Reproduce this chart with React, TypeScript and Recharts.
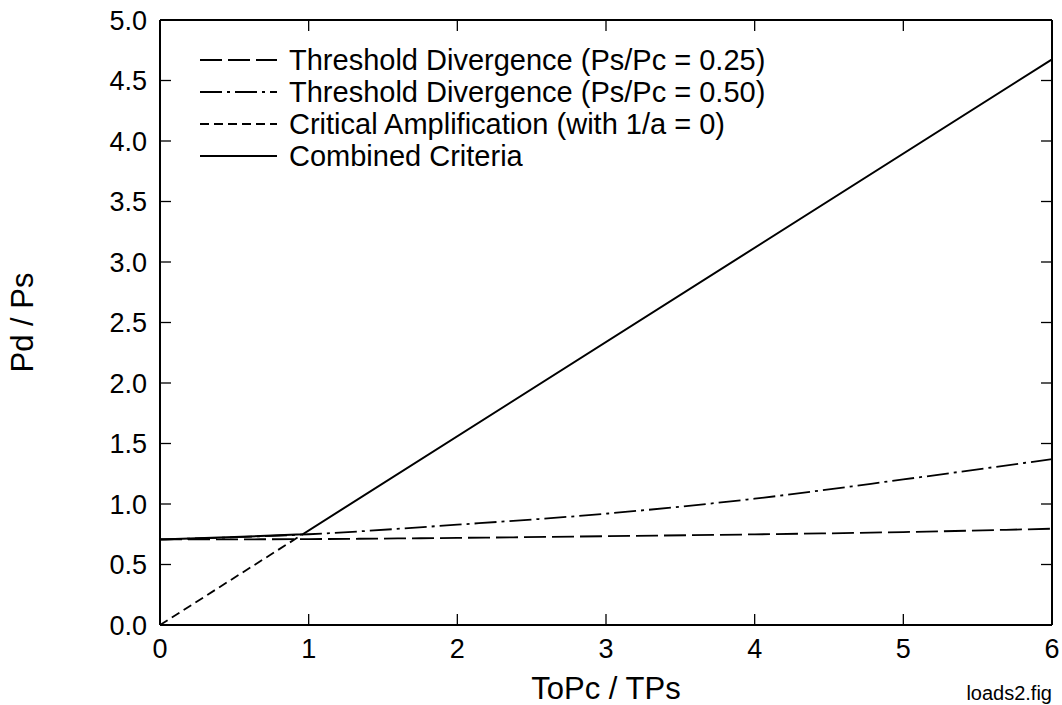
import React from 'react';
import { LineChart, Line, XAxis, YAxis, ReferenceLine } from 'recharts';

// values
const xValues = [0, 1, 2, 3, 4, 5, 6];
const divergence025 = [0.707, 0.71, 0.72, 0.734, 0.749, 0.768, 0.796];
const divergence050 = [0.707, 0.75, 0.829, 0.92, 1.044, 1.203, 1.371];

const criticalX = [0, 0.96];
const criticalY = [0, 0.75];

const combinedX = [0, 0.5, 0.96, 6];
const combinedY = [0.707, 0.727, 0.75, 4.675];

const xTicks = [0, 1, 2, 3, 4, 5, 6];
const yTicks = [0, 0.5, 1, 1.5, 2, 2.5, 3, 3.5, 4, 4.5, 5];

const seriesNames = [
  'Threshold Divergence (Ps/Pc = 0.25)',
  'Threshold Divergence (Ps/Pc = 0.50)',
  'Critical Amplification (with 1/a = 0)',
  'Combined Criteria',
];
const seriesDash = ['22 6', '22 5 3 5', '9 5', ''];

const X_MIN = 0;
const X_MAX = 6;
const Y_MIN = 0;
const Y_MAX = 5;
// inward tick length expressed in axis units (about 11px each way)
const TICK_DX = 0.074;
const TICK_DY = 0.09;

const toPoints = (xs: number[], ys: number[]) => xs.map((x, i) => ({ x, y: ys[i] }));

const div025Data = toPoints(xValues, divergence025);
const div050Data = toPoints(xValues, divergence050);
const criticalData = toPoints(criticalX, criticalY);
const combinedData = toPoints(combinedX, combinedY);

const FONT = '"Liberation Sans", Arial, Helvetica, sans-serif';
const TICK_FONT = 27;

const LeftTick = (p: any) => (
  <text x={Number(p.x)} y={Number(p.y)} dy="0.36em" textAnchor="end" fontSize={TICK_FONT} fontFamily={FONT} fill="#000">
    {Number(p.payload.value).toFixed(1)}
  </text>
);

const BottomTick = (p: any) => (
  <text x={Number(p.x)} y={Number(p.y)} dy="0.71em" textAnchor="middle" fontSize={TICK_FONT} fontFamily={FONT} fill="#000">
    {p.payload.value}
  </text>
);

const LegendBox = () => (
  <div style={{ position: 'absolute', left: 200, top: 44, fontFamily: FONT, fontSize: 29, color: '#000' }}>
    {seriesNames.map((name, i) => (
      <div key={name} style={{ display: 'flex', alignItems: 'center', height: 32 }}>
        <svg width={78} height={32} style={{ marginRight: 11 }}>
          <line x1={0} y1={16} x2={77} y2={16} stroke="#000" strokeWidth={1.8} strokeDasharray={seriesDash[i]} />
        </svg>
        <span style={{ lineHeight: '32px', whiteSpace: 'nowrap' }}>{name}</span>
      </div>
    ))}
  </div>
);

const XTitle = (props: any) => {
  const vb = props.viewBox || {};
  const cx = vb.x + vb.width / 2;
  return (
    <g fontFamily={FONT} fill="#000">
      <text x={cx} y={699} textAnchor="middle" fontSize={31}>ToPc / TPs</text>
      <text x={1052} y={700} textAnchor="end" fontSize={20}>loads2.fig</text>
    </g>
  );
};

const YTitle = (props: any) => {
  const vb = props.viewBox || {};
  const cy = vb.y + vb.height / 2;
  return (
    <text
      x={22}
      y={cy}
      transform={`rotate(-90 22 ${cy})`}
      textAnchor="middle"
      dominantBaseline="central"
      fontSize={31}
      fontFamily={FONT}
      fill="#000"
    >
      Pd / Ps
    </text>
  );
};

export default function App() {
  const axisLine = { stroke: '#000', strokeWidth: 2 };
  const tickProps = { xAxisId: 'bottom', yAxisId: 'left', stroke: '#000', strokeWidth: 1.3, ifOverflow: 'visible' as const };
  return (
    <div style={{ position: 'absolute', left: 0, top: 0, background: '#fff' }}>
      <LineChart width={1062} height={705} margin={{ top: 20, right: 10, left: 0, bottom: 0 }}>
        <XAxis
          xAxisId="bottom"
          dataKey="x"
          type="number"
          domain={[X_MIN, X_MAX]}
          ticks={xTicks}
          orientation="bottom"
          height={80}
          tickSize={0}
          tickMargin={14}
          tick={<BottomTick />}
          axisLine={axisLine}
          tickLine={false}
          allowDuplicatedCategory={false}
          label={<XTitle />}
        />
        <XAxis
          xAxisId="top"
          dataKey="x"
          type="number"
          domain={[X_MIN, X_MAX]}
          ticks={xTicks}
          orientation="top"
          mirror
          height={10}
          tick={false}
          axisLine={axisLine}
          tickLine={false}
          allowDuplicatedCategory={false}
        />
        <YAxis
          yAxisId="left"
          type="number"
          domain={[Y_MIN, Y_MAX]}
          ticks={yTicks}
          orientation="left"
          width={160}
          tickSize={0}
          tickMargin={13}
          tick={<LeftTick />}
          axisLine={axisLine}
          tickLine={false}
          label={<YTitle />}
        />
        <YAxis
          yAxisId="right"
          type="number"
          domain={[Y_MIN, Y_MAX]}
          ticks={yTicks}
          orientation="right"
          mirror
          width={10}
          tick={false}
          axisLine={axisLine}
          tickLine={false}
        />

        {/* inward tick marks on all four sides of the frame */}
        {yTicks.map((t) => (
          <ReferenceLine key={`l${t}`} {...tickProps} segment={[{ x: X_MIN, y: t }, { x: X_MIN + TICK_DX, y: t }]} />
        ))}
        {yTicks.map((t) => (
          <ReferenceLine key={`r${t}`} {...tickProps} segment={[{ x: X_MAX - TICK_DX, y: t }, { x: X_MAX, y: t }]} />
        ))}
        {xTicks.map((t) => (
          <ReferenceLine key={`b${t}`} {...tickProps} segment={[{ x: t, y: Y_MIN }, { x: t, y: Y_MIN + TICK_DY }]} />
        ))}
        {xTicks.map((t) => (
          <ReferenceLine key={`t${t}`} {...tickProps} segment={[{ x: t, y: Y_MAX - TICK_DY }, { x: t, y: Y_MAX }]} />
        ))}

        <Line
          xAxisId="bottom"
          yAxisId="left"
          data={div025Data}
          dataKey="y"
          name={seriesNames[0]}
          type="monotone"
          stroke="#000"
          strokeWidth={1.8}
          strokeDasharray={seriesDash[0]}
          dot={false}
          isAnimationActive={false}
        />
        <Line
          xAxisId="bottom"
          yAxisId="left"
          data={div050Data}
          dataKey="y"
          name={seriesNames[1]}
          type="monotone"
          stroke="#000"
          strokeWidth={1.8}
          strokeDasharray={seriesDash[1]}
          dot={false}
          isAnimationActive={false}
        />
        <Line
          xAxisId="bottom"
          yAxisId="left"
          data={criticalData}
          dataKey="y"
          name={seriesNames[2]}
          type="linear"
          stroke="#000"
          strokeWidth={1.8}
          strokeDasharray={seriesDash[2]}
          dot={false}
          isAnimationActive={false}
        />
        <Line
          xAxisId="bottom"
          yAxisId="left"
          data={combinedData}
          dataKey="y"
          name={seriesNames[3]}
          type="linear"
          stroke="#000"
          strokeWidth={2}
          dot={false}
          isAnimationActive={false}
        />
      </LineChart>
      <LegendBox />
    </div>
  );
}
